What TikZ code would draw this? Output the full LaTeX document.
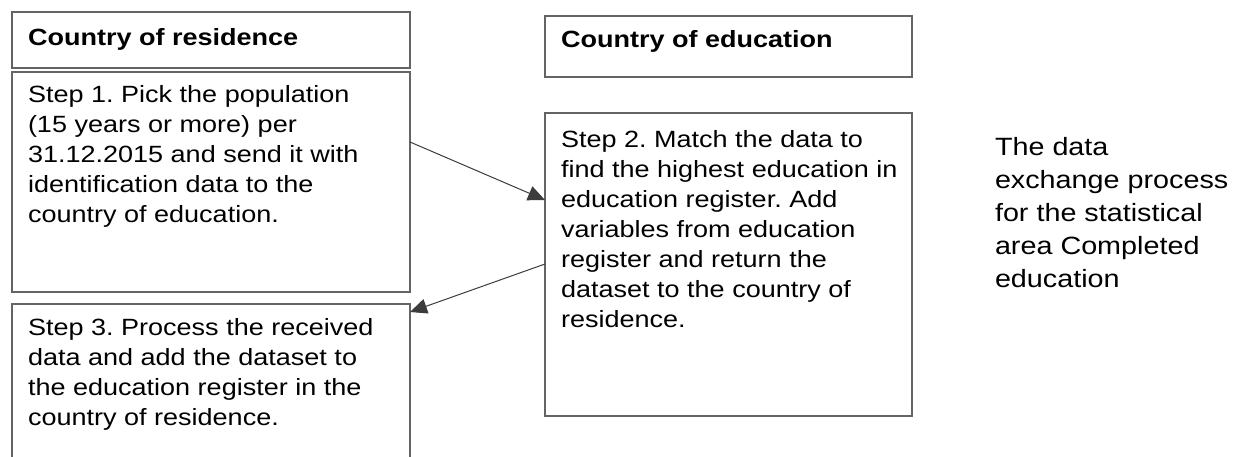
\documentclass[tikz,border=0pt]{standalone}
\usepackage{fontspec}
\setmainfont{Liberation Sans}[FakeStretch=1.15]
\usetikzlibrary{arrows.meta}
\definecolor{boxline}{HTML}{646464}
\definecolor{arrline}{HTML}{3C3C3C}
\newcommand\stepfont{\fontsize{23.5}{30}\selectfont}
\newcommand\notefont{\fontsize{25}{33}\selectfont}
\tikzset{
  box/.style={draw=boxline, line width=1.4pt, anchor=north west, inner sep=0pt, outer sep=0pt},
  txt/.style={anchor=base west, inner sep=0pt, outer sep=0pt, text=black},
  arr/.style={draw=arrline, line width=1pt, -{Triangle[length=17pt,width=15pt]}},
}
\begin{document}
\frenchspacing
\begin{tikzpicture}[x=1pt,y=-1pt]
\useasboundingbox (0,0) rectangle (1234,456);
\clip (0,0) rectangle (1234,456);
\fill[white] (0,0) rectangle (1234,456);
% left column
\node[box, minimum width=398pt, minimum height=56pt] (reshead) at (12,12) {};
\node[box, minimum width=398pt, minimum height=220pt] (step1) at (12,72) {};
\node[box, minimum width=398pt, minimum height=170pt] (step3) at (12,304) {};
% middle column
\node[box, minimum width=367pt, minimum height=61pt] (eduhead) at (545,16) {};
\node[box, minimum width=367pt, minimum height=303pt] (step2) at (545,113) {};
% texts
\node[txt, font=\stepfont\bfseries] (reshtxt) at (28,45) {Country of residence};
\node[txt, font=\stepfont\bfseries] (eduhtxt) at (561,47) {Country of education};
\node[txt] (t1) at (28,102) {\parbox[t]{380pt}{\stepfont\frenchspacing Step 1. Pick the population\\(15 years or more) per\\31.12.2015 and send it with\\identification data to the\\country of education.}};
\node[txt] (t2) at (561,147) {\parbox[t]{345pt}{\stepfont\frenchspacing Step 2. Match the data to\\find the highest education in\\education register. Add\\variables from education\\register and return the\\dataset to the country of\\residence.}};
\node[txt] (t3) at (28,335) {\parbox[t]{380pt}{\stepfont\frenchspacing Step 3. Process the received\\data and add the dataset to\\the education register in the\\country of residence.}};
\node[txt] (note) at (995,155) {\parbox[t]{240pt}{\notefont The data\\exchange process\\for the statistical\\area Completed\\education}};
% connectors
\draw[arr] ([yshift=-70pt]step1.north east) -- ([yshift=-87pt]step2.north west);
\draw[arr] ([yshift=-151pt]step2.north west) -- ([yshift=-8pt]step3.north east);
\end{tikzpicture}
\end{document}
